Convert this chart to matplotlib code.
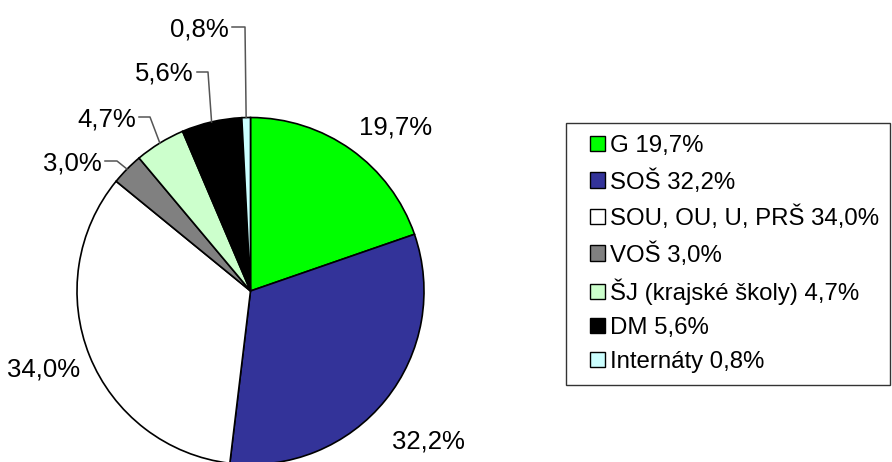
import matplotlib
matplotlib.use('Agg')
import matplotlib.pyplot as plt
from matplotlib.patches import Rectangle
import numpy as np

plt.rcParams['font.family'] = ['Liberation Sans', 'DejaVu Sans']

categories = ['G', 'SOŠ', 'SOU, OU, U, PRŠ', 'VOŠ', 'ŠJ (krajské školy)', 'DM', 'Internáty']
shares = [19.7, 32.2, 34.0, 3.0, 4.7, 5.6, 0.8]
colors = ['#00ff00', '#333399', '#ffffff', '#808080', '#ccffcc', '#000000', '#ccffff']

W, H = 892, 462
fig = plt.figure(figsize=(W / 100, H / 100), dpi=100)
ax = fig.add_axes([0, 0, 1, 1])


def py(y):
    # pixel row (from top) -> data y
    return H - y


cx, cy, r = 250.5, py(291), 173.5
wedges, _ = ax.pie(shares, colors=colors, startangle=90, counterclock=False,
                   center=(cx, cy), radius=r, frame=True,
                   wedgeprops=dict(edgecolor='black', linewidth=1.2))
ax.set_xlim(0, W)
ax.set_ylim(0, H)
ax.axis('off')

labels = [f'{v:.1f}'.replace('.', ',') + '%' for v in shares]

# big slices: plain labels
big_pos = {0: (396, 127), 1: (428, 441), 2: (44, 369)}
for i, (x, y) in big_pos.items():
    ax.text(x, py(y), labels[i], fontsize=18.5, ha='center', va='center')

# small slices: label + leader line (text right edge, elbow x, pie edge)
small_pos = {3: (102, 163, 117), 4: (136, 119, 150), 5: (194, 74, 208), 6: (229, 29, 245)}
for i, (tx, ty, ex) in small_pos.items():
    w = wedges[i]
    ang = np.deg2rad((w.theta1 + w.theta2) / 2)
    px_, py_ = cx + r * np.cos(ang), cy + r * np.sin(ang)
    ax.text(tx, py(ty), labels[i], fontsize=18.5, ha='right', va='center')
    ly = py(ty - 2)
    ax.plot([tx + 3, ex, px_], [ly, ly, py_], color='#555555', lw=1.1)

# legend with a separate frame
fig.patches.append(Rectangle((566 / W, 1 - 385 / H), (890 - 566) / W, (385 - 123) / H,
                             transform=fig.transFigure, fill=False,
                             edgecolor='#333333', lw=1.0))
handles = [Rectangle((0, 0), 1, 1, facecolor=c, edgecolor='black', lw=1.0) for c in colors]
leg_labels = [f'{c} {l}' for c, l in zip(categories, labels)]
fig.legend(handles, leg_labels, loc='upper left',
           bbox_to_anchor=(590 / W, 1 - 135 / H), frameon=False,
           fontsize=17.3, borderpad=0, borderaxespad=0,
           handlelength=0.62, handleheight=0.62, handletextpad=0.2,
           labelspacing=0.5)

fig.savefig('out.png', dpi=100)
